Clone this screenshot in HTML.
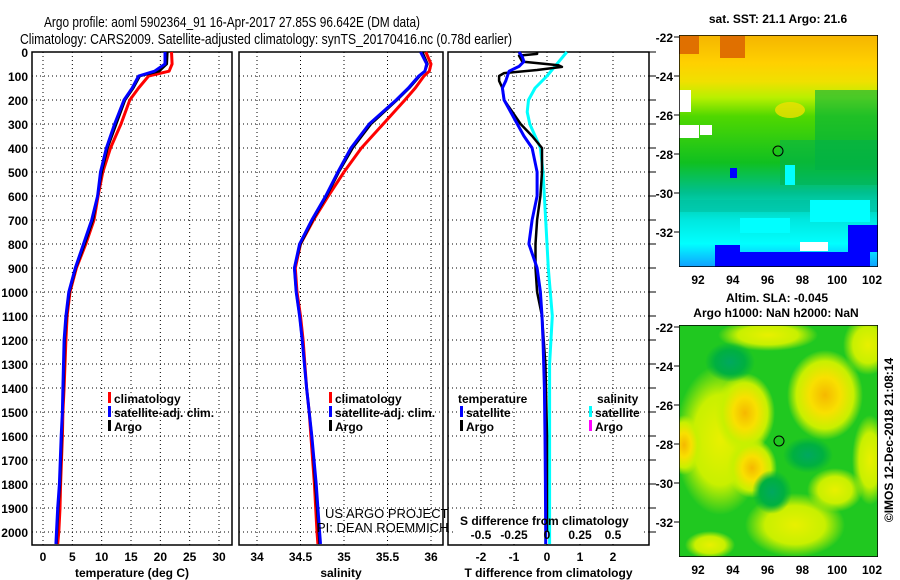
<!DOCTYPE html>
<html><head><meta charset="utf-8"><style>
html,body{margin:0;padding:0;background:#fff;width:900px;height:580px;overflow:hidden}
svg text{font-family:"Liberation Sans",sans-serif;fill:#000}
.tk{font-size:12px;font-weight:bold}
.tt{font-size:15px}
</style></head><body>
<svg id="chart" width="900" height="580" viewBox="0 0 900 580" xmlns="http://www.w3.org/2000/svg">
<defs>
<linearGradient id="sstg" x1="0" y1="0" x2="0" y2="1">
<stop offset="0" stop-color="#f5b400"/><stop offset="0.12" stop-color="#ffd000"/><stop offset="0.2" stop-color="#f0e000"/>
<stop offset="0.27" stop-color="#b8f000"/><stop offset="0.35" stop-color="#50d800"/><stop offset="0.55" stop-color="#10c020"/>
<stop offset="0.68" stop-color="#00c090"/><stop offset="0.8" stop-color="#00e8e0"/><stop offset="0.9" stop-color="#00ffff"/><stop offset="1" stop-color="#10a0ff"/>
</linearGradient>
<radialGradient id="yb"><stop offset="0" stop-color="#f5b800"/><stop offset="0.4" stop-color="#f8e000"/><stop offset="0.75" stop-color="#c8f000"/><stop offset="1" stop-color="#c8f000" stop-opacity="0"/></radialGradient>
<radialGradient id="yl"><stop offset="0" stop-color="#e8f000"/><stop offset="0.6" stop-color="#c8f000"/><stop offset="1" stop-color="#c8f000" stop-opacity="0"/></radialGradient>
<radialGradient id="dg"><stop offset="0" stop-color="#00a860"/><stop offset="0.6" stop-color="#00b040"/><stop offset="1" stop-color="#00b040" stop-opacity="0"/></radialGradient>
<clipPath id="c1"><rect x="679" y="35" width="199" height="232"/></clipPath>
<clipPath id="c2"><rect x="679" y="325" width="199" height="232"/></clipPath>
</defs>
<g id="titles">
<text class="tt" x="44" y="27" textLength="376" lengthAdjust="spacingAndGlyphs">Argo profile: aoml 5902364_91 16-Apr-2017 27.85S 96.642E (DM data)</text>
<text class="tt" x="20" y="44" textLength="492" lengthAdjust="spacingAndGlyphs">Climatology: CARS2009. Satellite-adjusted climatology: synTS_20170416.nc (0.78d earlier)</text>
</g>
<g id="p1"></g><g id="p2"></g><g id="p3"></g>
<g id="maps">
<text class="tk" x="778" y="23" text-anchor="middle" font-size="12">sat. SST: 21.1 Argo: 21.6</text>
<g clip-path="url(#c1)">
<rect x="679" y="35" width="199" height="232" fill="url(#sstg)"/>
<rect x="815" y="90" width="63" height="80" fill="#00b040" opacity="0.6"/>
<rect x="780" y="140" width="98" height="45" fill="#00b050" opacity="0.5"/>
<ellipse cx="790" cy="110" rx="15" ry="8" fill="#f0e000" opacity="0.8"/>
<rect x="679" y="36" width="20" height="18" fill="#e07000"/>
<rect x="720" y="36" width="25" height="22" fill="#e07000"/>
<rect x="679" y="90" width="12" height="22" fill="#fff"/>
<rect x="679" y="125" width="20" height="13" fill="#fff"/>
<rect x="700" y="125" width="12" height="10" fill="#fff"/>
<rect x="679" y="200" width="199" height="12" fill="#00c0a0" opacity="0.6"/>
<rect x="740" y="218" width="50" height="15" fill="#00ffff"/>
<rect x="810" y="200" width="60" height="22" fill="#00ffff"/>
<rect x="715" y="245" width="25" height="22" fill="#0000ff"/>
<rect x="740" y="252" width="130" height="15" fill="#0000ff"/>
<rect x="848" y="225" width="30" height="27" fill="#0000ff"/>
<rect x="800" y="242" width="28" height="9" fill="#fff"/>
<rect x="730" y="168" width="7" height="10" fill="#0000ff"/>
<rect x="785" y="165" width="10" height="20" fill="#00ffff"/>
<rect x="679" y="35" width="199" height="232" fill="none" stroke="#000" stroke-width="1.5"/>
</g>
<circle cx="778" cy="151" r="5" fill="none" stroke="#000"/>
<text class="tk" x="777" y="302" text-anchor="middle">Altim. SLA: -0.045</text>
<text class="tk" x="776" y="317" text-anchor="middle">Argo h1000: NaN h2000: NaN</text>
<g clip-path="url(#c2)">
<rect x="679" y="325" width="199" height="232" fill="#20c820"/>
<ellipse cx="768" cy="335" rx="50" ry="16" fill="url(#yl)"/>
<ellipse cx="868" cy="345" rx="25" ry="30" fill="url(#yl)"/>
<ellipse cx="720" cy="440" rx="45" ry="75" fill="url(#yl)"/>
<ellipse cx="745" cy="413" rx="30" ry="40" fill="url(#yb)"/>
<ellipse cx="752" cy="468" rx="25" ry="30" fill="url(#yb)"/>
<ellipse cx="684" cy="445" rx="18" ry="30" fill="url(#yb)"/>
<ellipse cx="825" cy="395" rx="38" ry="45" fill="url(#yb)"/>
<ellipse cx="870" cy="460" rx="18" ry="45" fill="url(#yl)"/>
<ellipse cx="835" cy="490" rx="28" ry="22" fill="url(#yl)"/>
<ellipse cx="795" cy="525" rx="50" ry="32" fill="url(#yl)"/>
<ellipse cx="710" cy="545" rx="25" ry="14" fill="url(#yl)"/>
<ellipse cx="772" cy="492" rx="20" ry="22" fill="url(#dg)"/>
<ellipse cx="730" cy="362" rx="25" ry="20" fill="url(#dg)"/>
<ellipse cx="808" cy="455" rx="25" ry="18" fill="url(#dg)"/>
<rect x="679" y="325" width="199" height="232" fill="none" stroke="#000" stroke-width="1.5"/>
</g>
<circle cx="779" cy="441" r="5" fill="none" stroke="#000"/>
<g id="mapticks"></g>
<text class="tk" transform="translate(893,440) rotate(-90)" text-anchor="middle">©IMOS 12-Dec-2018 21:08:14</text>
</g>
</svg>
<script>
// ---- data ----
const tDepths=[0,50,80,100,150,200,300,400,500,600,700,800,900,1000,1100,1200,1400,1500,1600,1800,1900,2000,2050];
const tClim=[21.9,22,21.5,18,16.3,14.8,13.3,11.5,10.2,9.4,8.7,7.3,5.7,4.6,4.1,3.9,3.6,3.4,3.3,3.0,2.9,2.7,2.5];
const tSat=[20.8,20.8,19,16.3,15.2,13.8,12.2,10.8,9.8,9.3,8.3,6.9,5.5,4.4,3.9,3.6,3.4,3.3,3.1,2.8,2.5,2.3,2.2];
const tArgo=[21.2,21.1,19.8,16.5,15.4,14.0,12.5,11.0,10.0,9.3,8.5,7.1,5.6,4.5,4.0,3.7,3.5,3.3,3.2,2.9,2.6,2.4,2.3];
const sDepths=[0,50,80,100,150,200,300,400,500,600,700,800,900,1000,1100,1200,1400,1500,1600,1800,2000,2050];
const sClim=[35.94,36.0,35.98,35.92,35.82,35.7,35.45,35.2,35.0,34.82,34.65,34.5,34.44,34.46,34.5,34.53,34.57,34.6,34.62,34.66,34.69,34.70];
const sSat=[35.88,35.95,35.93,35.86,35.74,35.6,35.29,35.08,34.93,34.79,34.63,34.49,34.43,34.45,34.49,34.52,34.57,34.6,34.63,34.68,34.72,34.73];
const sArgo=[35.9,35.96,35.93,35.87,35.75,35.61,35.31,35.1,34.94,34.8,34.64,34.5,34.43,34.45,34.49,34.52,34.57,34.6,34.63,34.67,34.71,34.72];
const dSatDepths=[0,20,40,60,80,100,120,150,200,250,300,350,400,500,600,700,800,900,1000,1100,1200,1300,1400,1600,1800,2000,2050];
const dTSat=[-0.85,-0.75,-0.7,-0.85,-1.15,-1.2,-1.25,-1.35,-1.3,-1.1,-0.9,-0.7,-0.45,-0.3,-0.3,-0.45,-0.55,-0.3,-0.2,-0.15,-0.12,-0.1,-0.08,-0.06,-0.05,-0.04,-0.04];
const dArgoDepths=[0,8,15,40,55,62,75,88,100,120,150,200,250,300,350,400,500,600,700,800,900,1000,1100,1200,1300,1400,1600,1800,2000];
const dTArgo=[-0.3,-0.3,-0.85,-0.75,0.35,0.45,-0.3,-1.3,-1.45,-1.45,-1.35,-1.3,-1.05,-0.8,-0.45,-0.15,-0.15,-0.2,-0.3,-0.35,-0.35,-0.3,-0.15,-0.1,-0.05,-0.03,0,0,0];
const dSDepths=[0,60,100,150,200,250,300,400,500,700,900,1100,1300,1500,2000,2050];
const dSSat=[0.15,0.06,0,-0.09,-0.14,-0.15,-0.13,-0.05,-0.03,-0.01,0.01,0.04,0.02,0.02,0.02,0.02];
const depthTicks=[0,100,200,300,400,500,600,700,800,900,1000,1100,1200,1300,1400,1500,1600,1700,1800,1900,2000];
const tTicks=[0,5,10,15,20,25,30];
const sTicks=[34,34.5,35,35.5,36];
const sTickLabels=["34","34.5","35","35.5","36"];
const dTTicks=[-2,-1,0,1,2];
const dSTicks=[-0.5,-0.25,0,0.25,0.5];
const dSTickLabels=["-0.5","-0.25","0","0.25","0.5"];
const latTicks=[-22,-24,-26,-28,-30,-32];
const lonTicks=[92,94,96,98,100,102];

const NS='http://www.w3.org/2000/svg';
function el(tag,attrs,parent,txt){const e=document.createElementNS(NS,tag);for(const k in attrs)e.setAttribute(k,attrs[k]);if(txt!==undefined)e.textContent=txt;parent.appendChild(e);return e;}
const yD=d=>52+d*0.24;
const xT=v=>43+v*(176/30);
const xS=v=>257+(v-34)*87;
const xDT=v=>547+v*33;
const xDS=v=>547+v*132;
const TOP=52,BOT=545;

function panel(g,x0,x1,xt,xTicks,labels,title){
  for(const d of depthTicks){
    const l=el('line',{x1:x0,x2:x1,y1:yD(d),y2:yD(d),stroke:'#000','stroke-dasharray':'1 3'},g);
    
  }
  xTicks.forEach((v,i)=>{
    const x=xt(v);
    const l=el('line',{x1:x,x2:x,y1:TOP,y2:BOT,stroke:'#000','stroke-dasharray':'1 3'},g);
    
    if(labels){const t=el('text',{x:x,y:561,'text-anchor':'middle',class:'tk'},g,labels[i]);
    }
  });
  const r=el('rect',{x:x0,y:TOP,width:x1-x0,height:BOT-TOP,fill:'none',stroke:'#000','stroke-width':1.5},g);
  
  if(title){const t=el('text',{x:(x0+x1)/2,y:577,'text-anchor':'middle',class:'tk'},g,title);
  }
}
function line(g,depths,vals,xf,color,w,name){
  const pts=vals.map((v,i)=>xf(v).toFixed(1)+','+yD(depths[i]).toFixed(1)).join(' ');
  const p=el('polyline',{points:pts,fill:'none',stroke:color,'stroke-width':w,'stroke-linejoin':'round'},g);
  
}
function legend(g,x,y,color,label){
  const b=el('rect',{x:x,y:y-6,width:3,height:11,fill:color},g);
  
  const t=el('text',{x:x+6,y:y+5,class:'tk'},g,label);
  
}
const g1=document.getElementById('p1'),g2=document.getElementById('p2'),g3=document.getElementById('p3');
panel(g1,32,232,xT,tTicks,tTicks.map(String),'temperature (deg C)');
depthTicks.forEach(d=>{const t=el('text',{x:28,y:yD(d)+5,'text-anchor':'end',class:'tk'},g1,String(d));
});
line(g1,tDepths,tClim,xT,'#ff0000',3,'temperature-climatology-line');
line(g1,tDepths,tArgo,xT,'#000',2.5,'temperature-argo-line');
line(g1,tDepths,tSat,xT,'#0000ff',3,'temperature-satellite-line');
legend(g1,108,398,'#ff0000','climatology');legend(g1,108,412,'#0000ff','satellite-adj. clim.');legend(g1,108,426,'#000','Argo');

panel(g2,239,443,xS,sTicks,sTickLabels,'salinity');
line(g2,sDepths,sClim,xS,'#ff0000',3,'salinity-climatology-line');
line(g2,sDepths,sArgo,xS,'#000',2.5,'salinity-argo-line');
line(g2,sDepths,sSat,xS,'#0000ff',3,'salinity-satellite-line');
legend(g2,329,398,'#ff0000','climatology');legend(g2,329,412,'#0000ff','satellite-adj. clim.');legend(g2,329,426,'#000','Argo');
let t;
t=el('text',{x:325,y:518,'font-size':'13'},g2,'US ARGO PROJECT');
t=el('text',{x:317,y:532,'font-size':'13'},g2,'PI: DEAN ROEMMICH');

panel(g3,448,649,xDT,dTTicks,dTTicks.map(String),'T difference from climatology');
depthTicks.forEach(d=>{const l=el('line',{x1:649,x2:656,y1:yD(d),y2:yD(d),stroke:'#000'},g3);
});
const wbg=el('rect',{x:455,y:512,width:188,height:30,fill:'#fff'},g3);

line(g3,dSDepths,dSSat,xDS,'#00ffff',3,'salinity-diff-satellite-line');
line(g3,dArgoDepths,dTArgo,xDT,'#000',2.5,'temperature-diff-argo-line');
line(g3,dSatDepths,dTSat,xDT,'#0000ff',3,'temperature-diff-satellite-line');
t=el('text',{x:460,y:525,class:'tk'},g3,'S difference from climatology');
dSTicks.forEach((v,i)=>{const tt=el('text',{x:xDS(v),y:539,'text-anchor':'middle',class:'tk'},g3,dSTickLabels[i]);
});
t=el('text',{x:458,y:403,class:'tk'},g3,'temperature');
t=el('text',{x:597,y:403,class:'tk'},g3,'salinity');
legend(g3,460,412,'#0000ff','satellite');legend(g3,460,426,'#000','Argo');
legend(g3,589,412,'#00ffff','satellite');legend(g3,589,426,'#ff00ff','Argo');

const gm=document.getElementById('mapticks');
function mapAxes(top,latY){
  latTicks.forEach(v=>{const y=latY(v);
    const l=el('line',{x1:674,x2:679,y1:y,y2:y,stroke:'#000'},gm);
    const tx=el('text',{x:673,y:y+5,'text-anchor':'end',class:'tk'},gm,String(v));});
  lonTicks.forEach(v=>{const x=698+(v-92)*17.4;
    const tx=el('text',{x:x,y:top+232+17,'text-anchor':'middle',class:'tk'},gm,String(v));});
}
mapAxes(35,v=>37+(-22-v)*19.5);
mapAxes(325,v=>327+(-22-v)*19.5);
</script>
</body></html>
